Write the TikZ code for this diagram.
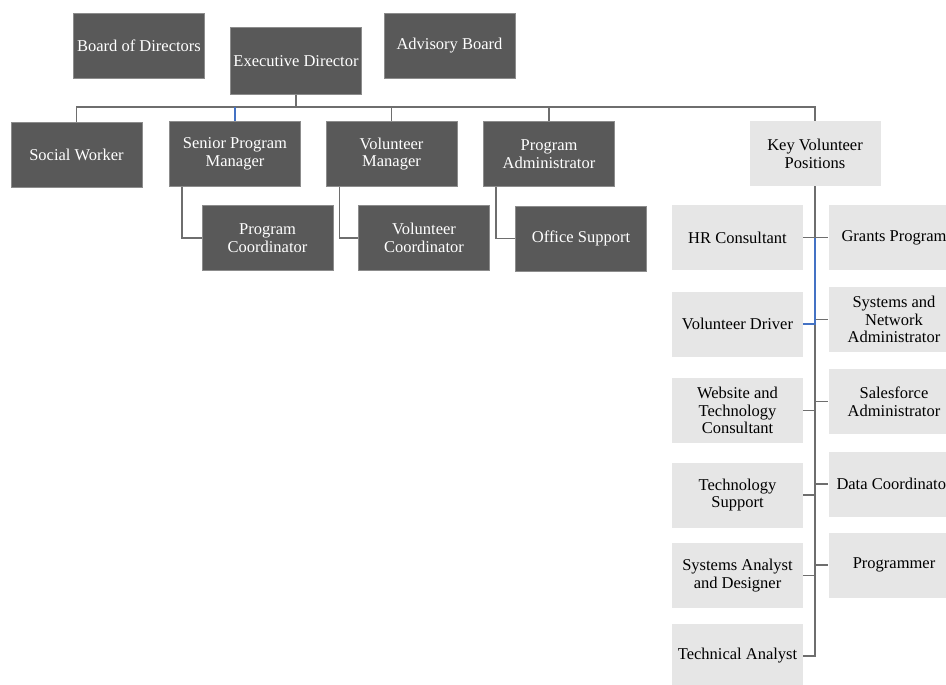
\documentclass[tikz,border=0pt]{standalone}
\usepackage{fontspec}
\setmainfont{Liberation Serif}
\definecolor{dkfill}{HTML}{595959}
\definecolor{dkline}{HTML}{8C8C8C}
\definecolor{ltfill}{HTML}{E6E6E6}
\definecolor{conn}{HTML}{6E6E6E}
\definecolor{hl}{HTML}{4472C4}
\begin{document}
\begin{tikzpicture}[x=1pt,y=-1pt,
  box/.style={minimum width=131pt,minimum height=65pt,inner sep=1pt,align=center,
    font=\fontsize{16.5}{17.8}\selectfont},
  dk/.style={box,fill=dkfill,draw=dkline,line width=1pt,text=white},
  lt/.style={box,fill=ltfill,text=black},
  ln/.style={draw=conn,line width=1.5pt},
  bl/.style={draw=hl,line width=1.5pt}]
\useasboundingbox (0,0) rectangle (946,685);
\clip (0,0) rectangle (946,685);
% top row
\node[dk] (bod) at (139,46) {Board of Directors};
\node[dk,minimum height=67pt] (ed) at (296,61.5) {Executive Director};
\node[dk] (ab) at (449.5,46) {Advisory Board};
% second row
\node[dk] (sw) at (76.5,154.5) {Social Worker};
\node[dk] (spm) at (235,154) {Senior Program\\Manager};
\node[dk] (vm) at (391.5,154) {Volunteer\\Manager};
\node[dk] (pa) at (549,154) {Program\\Administrator};
\node[lt] (kvp) at (815,153.5) {Key Volunteer\\Positions};
% third row
\node[dk] (pc) at (267.5,238) {Program\\Coordinator};
\node[dk] (vc) at (424,238) {Volunteer\\Coordinator};
\node[dk] (os) at (581,238.5) {Office Support};
% key volunteer columns
\node[lt] (hr) at (737.5,237.5) {HR Consultant};
\node[lt] (vd) at (737.5,324) {Volunteer Driver};
\node[lt] (wt) at (737.5,410.5) {Website and\\Technology\\Consultant};
\node[lt] (ts) at (737.5,495) {Technology\\Support};
\node[lt] (sa) at (737.5,575.5) {Systems Analyst\\and Designer};
\node[lt] (ta) at (737.5,656) {Technical Analyst};
\node[lt] (gp) at (894,237.5) {Grants Program};
\node[lt] (sn) at (894,319.5) {Systems and\\Network\\Administrator};
\node[lt] (sf) at (894,401.5) {Salesforce\\Administrator};
\node[lt] (dc) at (894,484) {Data Coordinator};
\node[lt] (pg) at (894,565) {Programmer};
% bus
\coordinate (bus) at (0,107);
\coordinate (trunk) at (815,0);
\draw[ln] (ed.south) -- (ed.south |- bus);
\draw[ln] (sw.north) -- (sw.north |- bus) -- (kvp.north |- bus) -- (kvp.north);
\draw[bl] (spm.north |- bus) -- (spm.north);
\draw[ln] (vm.north |- bus) -- (vm.north);
\draw[ln] (pa.north |- bus) -- (pa.north);
% sub connectors
\draw[ln] ([xshift=13pt]spm.south west) |- (pc.west);
\draw[ln] ([xshift=14pt]vm.south west) |- (vc.west);
\draw[ln] ([xshift=13pt]pa.south west) |- (os.west);
% trunk
\draw[ln] (kvp.south) -- (trunk |- ta.east) -- (ta.east);
\foreach \n in {hr,wt,ts,sa}{\draw[ln] (\n.east) -- (trunk |- \n.east);}
\foreach \n in {gp,sn,sf,dc,pg}{\draw[ln] (trunk |- \n.west) -- (\n.west);}
\draw[bl] (trunk |- hr.east) -- (trunk |- vd.east) -- (vd.east);
\end{tikzpicture}
\end{document}
